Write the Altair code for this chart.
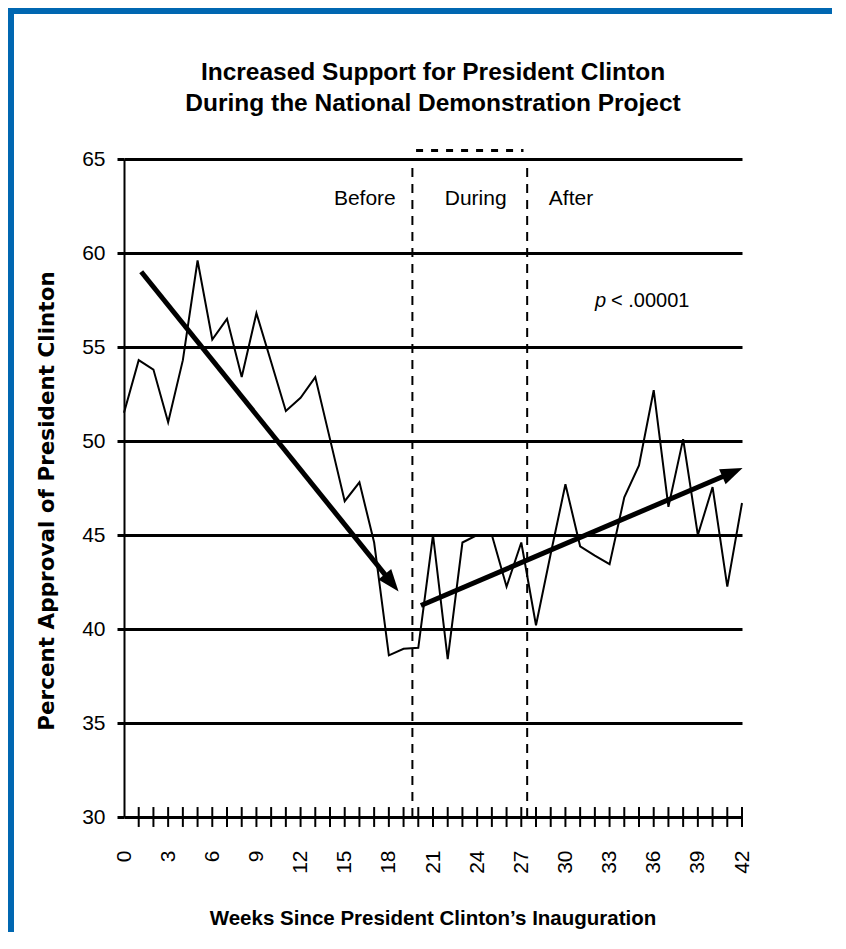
import math
import altair as alt
import pandas as pd

# ---------------- data ----------------
weeks = list(range(43))
approval = [51.5, 54.3, 53.8, 51.0, 54.3, 59.6, 55.4, 56.5, 53.4, 56.8,
            54.2, 51.6, 52.3, 53.4, 50.1, 46.8, 47.8, 44.6, 38.6, 38.95,
            39.0, 45.0, 38.4, 44.6, 45.0, 45.0, 42.25, 44.6, 40.2, 44.0,
            47.7, 44.4, 43.9, 43.45, 47.0, 48.7, 52.7, 46.5, 50.1, 45.0,
            47.55, 42.25, 46.7]

y_ticks = [30, 35, 40, 45, 50, 55, 60, 65]
x_labels = [0, 3, 6, 9, 12, 15, 18, 21, 24, 27, 30, 33, 36, 39, 42]
minor_weeks = list(range(1, 43))

phase_bounds = [19.6, 27.4]
phase_top = 65.45
phase_labels = ["Before", "During", "After"]
phase_label_x = [18.47, 23.9, 30.38]
phase_label_y = [62.57, 62.57, 62.57]

arrow_start_x = [1.17, 20.18]
arrow_start_y = [59.0, 41.25]
arrow_tip_x = [18.66, 42.04]
arrow_tip_y = [42.0, 48.56]

title_lines = ["Increased Support for President Clinton",
               "During the National Demonstration Project"]
x_title = "Weeks Since President Clinton\u2019s Inauguration"
y_title = "Percent Approval of President Clinton"

# ---------------- layout ----------------
W, H = 618, 658
PAD = {"left": 116, "top": 151, "right": 90, "bottom": 115}
XMAX, YMIN, YMAX = 42, 30, 65
px_x = W / XMAX
px_y = H / (YMAX - YMIN)

SANS = "Liberation Sans, Arial, sans-serif"
BOLDW = "DejaVu Sans, Verdana, sans-serif"

xs = alt.Scale(domain=[0, XMAX], nice=False, zero=False)
ys = alt.Scale(domain=[YMIN, YMAX], nice=False, zero=False)

main_df = pd.DataFrame({"week": weeks, "approval": approval})

line = alt.Chart(main_df).mark_line(color="black", strokeWidth=2).encode(
    x=alt.X("week:Q", scale=xs, axis=alt.Axis(
        values=x_labels, labelAngle=270, labelFontSize=21, labelFont=SANS,
        labelColor="black", ticks=False, domain=False, grid=False,
        labelPadding=33, title=None, labelFlush=False)),
    y=alt.Y("approval:Q", scale=ys, axis=alt.Axis(
        values=y_ticks, grid=True, gridColor="black", gridWidth=3, gridOpacity=1,
        tickColor="black", tickWidth=3, tickSize=7, domain=True,
        domainColor="black", domainWidth=2, labelFontSize=21, labelFont=SANS,
        labelColor="black", labelPadding=12, title=None)),
)

# small cross ticks on the x axis
tick_df = pd.DataFrame({"week": minor_weeks,
                        "lo": [YMIN - 0.53] * len(minor_weeks),
                        "hi": [YMIN + 0.53] * len(minor_weeks)})
ticks = alt.Chart(tick_df).mark_rule(color="black", strokeWidth=2).encode(
    x=alt.X("week:Q", scale=xs, axis=None),
    y=alt.Y("lo:Q", scale=ys, axis=None), y2="hi:Q")

# dashed phase boundaries
vdf = pd.DataFrame({"x": phase_bounds, "lo": [YMIN] * 2, "hi": [YMAX] * 2})
vlines = alt.Chart(vdf).mark_rule(color="black", strokeWidth=2, strokeDash=[9, 7]).encode(
    x=alt.X("x:Q", scale=xs, axis=None),
    y=alt.Y("lo:Q", scale=ys, axis=None), y2="hi:Q")
hdf = pd.DataFrame({"x": [phase_bounds[0] + 0.25], "x2": [phase_bounds[1] - 0.25],
                    "y": [phase_top]})
hline = alt.Chart(hdf).mark_rule(color="black", strokeWidth=3, strokeDash=[7, 8]).encode(
    x=alt.X("x:Q", scale=xs, axis=None), x2="x2:Q",
    y=alt.Y("y:Q", scale=ys, axis=None))

# arrows
rows = []
for sx, sy, tx, ty in zip(arrow_start_x, arrow_start_y, arrow_tip_x, arrow_tip_y):
    dxp = (tx - sx) * px_x
    dyp = -(ty - sy) * px_y
    L = math.hypot(dxp, dyp)
    ux, uy = dxp / L, dyp / L
    back = 10
    ex = tx - ux * back / px_x
    ey = ty + uy * back / px_y
    ang = math.degrees(math.atan2(ux, -uy)) % 360
    rows.append({"sx": sx, "sy": sy, "ex": ex, "ey": ey, "tx": tx, "ty": ty, "ang": ang})
adf = pd.DataFrame(rows)
arrow_lines = alt.Chart(adf).mark_rule(color="black", strokeWidth=5).encode(
    x=alt.X("sx:Q", scale=xs, axis=None), x2="ex:Q",
    y=alt.Y("sy:Q", scale=ys, axis=None), y2="ey:Q")
heads = alt.Chart(adf).mark_point(
    shape="M0,0L0.75,2L-0.75,2Z", filled=True, fill="black", stroke="black",
    strokeWidth=0, opacity=1, size=484).encode(
    x=alt.X("tx:Q", scale=xs, axis=None),
    y=alt.Y("ty:Q", scale=ys, axis=None),
    angle=alt.Angle("ang:Q", scale=None))

# phase labels
ldf = pd.DataFrame({"label": phase_labels, "x": phase_label_x, "y": phase_label_y})
before = alt.Chart(ldf.iloc[[0]]).mark_text(
    font=SANS, fontSize=21, color="black", align="right", baseline="alphabetic").encode(
    x=alt.X("x:Q", scale=xs, axis=None), y=alt.Y("y:Q", scale=ys, axis=None), text="label:N")
others = alt.Chart(ldf.iloc[[1, 2]]).mark_text(
    font=SANS, fontSize=21, color="black", align="center", baseline="alphabetic").encode(
    x=alt.X("x:Q", scale=xs, axis=None), y=alt.Y("y:Q", scale=ys, axis=None), text="label:N")

one = alt.Data(values=[{"a": 1}])
p_text = alt.Chart(one).mark_text(font=SANS, fontSize=20, fontStyle="italic",
                                  color="black", align="left", baseline="alphabetic").encode(
    x=alt.value(471), y=alt.value(148), text=alt.value("p"))
p_rest = alt.Chart(one).mark_text(font=SANS, fontSize=20, color="black",
                                  align="left", baseline="alphabetic").encode(
    x=alt.value(487), y=alt.value(148), text=alt.value("< .00001"))

t1 = alt.Chart(one).mark_text(font=SANS, fontSize=24.5, fontWeight="bold", color="black",
                              align="center", baseline="alphabetic").encode(
    x=alt.value(W / 2), y=alt.value(-79), text=alt.value(title_lines[0]))
t2 = alt.Chart(one).mark_text(font=SANS, fontSize=24.5, fontWeight="bold", color="black",
                              align="center", baseline="alphabetic").encode(
    x=alt.value(W / 2), y=alt.value(-48), text=alt.value(title_lines[1]))
xt = alt.Chart(one).mark_text(font=SANS, fontSize=20.5, fontWeight="bold", color="black",
                              align="center", baseline="alphabetic").encode(
    x=alt.value(W / 2), y=alt.value(766), text=alt.value(x_title))
yt = alt.Chart(one).mark_text(font=BOLDW, fontSize=21.5, fontWeight="bold", color="black",
                              align="center", baseline="middle", angle=270).encode(
    x=alt.value(-76), y=alt.value(342), text=alt.value(y_title))

# blue frame
frame_top = alt.Chart(one).mark_rect(color="#0067B1").encode(
    x=alt.value(-PAD["left"]), x2=alt.value(W + PAD["right"]),
    y=alt.value(-PAD["top"]), y2=alt.value(-PAD["top"] + 6))
frame_left = alt.Chart(one).mark_rect(color="#0067B1").encode(
    x=alt.value(-PAD["left"]), x2=alt.value(-PAD["left"] + 6),
    y=alt.value(-PAD["top"]), y2=alt.value(H + PAD["bottom"]))

chart = alt.layer(
    line, ticks, vlines, hline, arrow_lines, heads, before, others,
    p_text, p_rest, t1, t2, xt, yt, frame_top, frame_left
).resolve_axis(x="independent", y="independent").properties(
    width=W, height=H,
    autosize=alt.AutoSizeParams(type="none"),
    padding=PAD,
).configure(background="white").configure_view(stroke=None)

chart.save("out.html", embed_options={"renderer": "svg", "actions": False})
